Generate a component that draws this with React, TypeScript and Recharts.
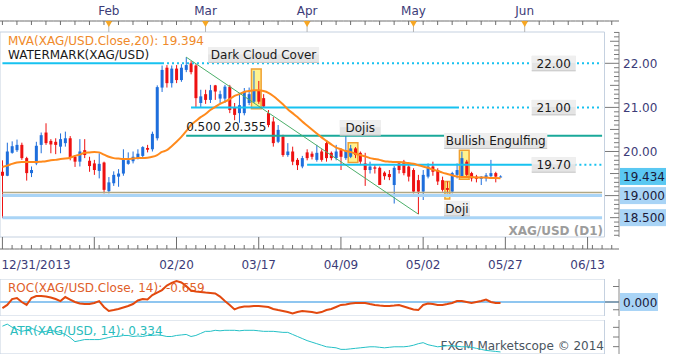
import React from 'react'
import { ComposedChart, Bar, Line, XAxis, YAxis, ReferenceLine, ReferenceArea, ReferenceDot } from 'recharts'

// XAG/USD daily, 12/31/2013 .. late May 2014
const opens = [19.54, 19.45, 19.97, 20.03, 20.15, 19.85, 19.51, 19.73, 20.15, 20.43,
  20.24, 20.22, 20.11, 20.19, 20.30, 19.88, 19.77, 20.03, 19.79, 19.73,
  19.56, 19.75, 19.10, 19.28, 19.43, 19.50, 19.72, 19.78, 19.85, 19.90,
  20.08, 20.05, 20.30, 21.45, 21.90, 21.55, 21.88, 21.62, 21.85, 22.00,
  21.95, 21.10, 21.30, 21.17, 21.50, 21.20, 21.20, 21.47, 20.99, 20.87,
  20.87, 21.10, 21.13, 21.39, 21.21, 20.87, 20.68, 20.22, 20.34, 19.92,
  20.00, 19.81, 19.66, 19.98, 19.95, 19.81, 20.00, 20.19, 19.97, 19.85,
  20.03, 19.85, 19.88, 20.07, 19.97, 19.73, 19.58, 19.64, 19.63, 19.52,
  19.49, 19.24, 19.73, 19.77, 19.66, 19.58, 19.35, 19.09, 19.43, 19.66,
  19.58, 19.35, 19.17, 19.09, 19.47, 19.44, 19.77, 19.51, 19.43, 19.38,
  19.39, 19.44, 19.51, 19.42]
const highs = [19.80, 20.20, 20.23, 20.27, 20.20, 19.88, 19.66, 20.22, 20.43, 20.64,
  20.28, 20.30, 20.41, 20.45, 20.35, 19.92, 20.28, 20.28, 19.88, 19.81,
  19.96, 19.77, 19.42, 19.55, 19.60, 20.05, 19.98, 20.00, 20.05, 20.12,
  20.15, 20.45, 21.50, 21.95, 21.96, 21.95, 21.96, 21.98, 22.14, 22.05,
  21.98, 21.40, 21.40, 21.51, 21.51, 21.38, 21.51, 21.51, 21.10, 21.32,
  21.44, 21.45, 21.83, 21.60, 21.30, 20.94, 20.78, 20.60, 20.38, 20.19,
  20.11, 19.85, 19.90, 20.05, 20.00, 20.15, 20.05, 20.25, 20.00, 20.15,
  20.07, 20.36, 20.15, 20.10, 20.00, 19.97, 19.77, 19.70, 19.66, 19.55,
  19.58, 19.67, 19.77, 19.81, 19.69, 19.62, 19.47, 19.58, 19.73, 19.77,
  19.62, 19.43, 19.32, 19.54, 19.73, 20.00, 19.81, 19.54, 19.47, 19.44,
  19.51, 19.81, 19.54, 19.46]
const lows = [18.49, 19.44, 19.95, 19.99, 19.81, 19.34, 19.42, 19.69, 19.96, 20.15,
  19.96, 19.94, 19.96, 20.11, 19.80, 19.65, 19.66, 19.85, 19.54, 19.47,
  19.39, 19.05, 19.05, 19.22, 19.20, 19.45, 19.70, 19.73, 19.82, 19.85,
  19.98, 20.00, 20.25, 21.35, 21.45, 21.45, 21.55, 21.58, 21.80, 21.75,
  21.01, 21.00, 21.08, 21.10, 21.17, 21.10, 21.10, 20.87, 20.71, 20.65,
  20.82, 21.05, 21.10, 21.08, 20.99, 20.55, 20.11, 20.19, 19.88, 19.88,
  19.69, 19.58, 19.62, 19.80, 19.82, 19.77, 19.77, 19.77, 19.80, 19.80,
  19.58, 19.81, 19.85, 19.85, 19.72, 19.22, 19.50, 19.50, 19.24, 19.36,
  19.35, 18.82, 19.50, 19.46, 19.32, 19.05, 18.58, 18.90, 19.39, 19.45,
  19.24, 19.09, 19.05, 19.05, 19.39, 19.43, 19.43, 19.32, 19.30, 19.24,
  19.32, 19.39, 19.30, 19.41]
const closes = [19.45, 20.00, 20.12, 20.15, 19.85, 19.51, 19.58, 20.13, 20.37, 20.19,
  20.16, 20.15, 20.28, 20.30, 19.87, 19.77, 20.00, 19.92, 19.67, 19.58,
  19.72, 19.13, 19.30, 19.47, 19.50, 19.85, 19.80, 19.88, 19.95, 20.10,
  20.04, 20.40, 21.46, 21.85, 21.55, 21.88, 21.62, 21.90, 21.96, 21.80,
  21.21, 21.25, 21.17, 21.39, 21.36, 21.30, 21.47, 20.94, 20.83, 21.05,
  21.36, 21.30, 21.39, 21.13, 21.02, 20.60, 20.19, 20.49, 19.92, 20.00,
  19.77, 19.69, 19.85, 19.85, 19.88, 19.97, 19.81, 19.85, 19.85, 20.00,
  19.88, 20.03, 20.07, 19.92, 19.77, 19.58, 19.66, 19.61, 19.24, 19.44,
  19.42, 19.63, 19.58, 19.51, 19.43, 19.09, 19.09, 19.47, 19.66, 19.54,
  19.32, 19.13, 19.13, 19.51, 19.58, 19.85, 19.47, 19.39, 19.38, 19.43,
  19.46, 19.51, 19.43, 19.434]
// MVA(Close,20) as drawn
const mva = [19.65, 19.68, 19.72, 19.75, 19.76, 19.76, 19.76, 19.76, 19.77, 19.78,
  19.80, 19.81, 19.83, 19.84, 19.86, 19.90, 19.93, 19.97, 19.98, 19.99,
  19.98, 19.93, 19.88, 19.85, 19.84, 19.83, 19.83, 19.84, 19.85, 19.85,
  19.86, 19.88, 19.92, 19.99, 20.03, 20.12, 20.22, 20.33, 20.46, 20.60,
  20.69, 20.78, 20.85, 20.94, 21.01, 21.08, 21.13, 21.19, 21.26, 21.30,
  21.35, 21.37, 21.39, 21.39, 21.37, 21.33, 21.26, 21.17, 21.07, 20.96,
  20.87, 20.78, 20.68, 20.59, 20.50, 20.41, 20.32, 20.24, 20.16, 20.09,
  20.05, 20.01, 19.99, 19.95, 19.92, 19.89, 19.85, 19.83, 19.81, 19.78,
  19.77, 19.76, 19.76, 19.75, 19.74, 19.72, 19.69, 19.66, 19.63, 19.59,
  19.56, 19.52, 19.49, 19.46, 19.43, 19.42, 19.42, 19.42, 19.41, 19.41,
  19.41, 19.40, 19.40, 19.394]
// ROC(Close,14), %
const roc = [-3.9, -1.9, 1.9, 2.6, 0, -1.9, 2.6, 3.9, 3.9, 3.5,
  2.9, 1.9, 0.6, 3.2, 1.6, 0, -1.0, -1.3, -1.3, -0.6,
  0.6, -3.2, -5.8, -5.2, -4.5, -3.5, -2.6, -1.3, 1.0, 1.9,
  1.6, 4.5, 6.1, 7.7, 10.6, 12.3, 13.5, 12.6, 10.3, 7.4,
  6.8, 6.5, 6.1, 5.8, 5.5, 3.5, 0.6, -1.9, -4.8, -3.5,
  -2.9, -2.9, -2.6, -2.6, -2.9, -3.2, -4.5, -5.2, -5.8, -6.5,
  -7.4, -6.5, -5.8, -6.1, -6.5, -7.1, -6.5, -5.2, -4.5, -3.2,
  -1.9, -1.6, -1.0, -0.6, -0.6, -0.6, -1.3, -1.9, -2.3, -2.6,
  -2.6, -2.3, -1.9, -2.9, -3.9, -4.8, -5.2, -1.9, -1.0, -1.3,
  -1.9, -1.9, -1.3, -0.6, 0.6, 0.6, 0, -0.6, 0, 0.6,
  1.6, 0, -0.6, -0.659]
// ATR(14)
const atr = [0.534, 0.55, 0.526, 0.51, 0.494, 0.502, 0.518, 0.502, 0.486, 0.494,
  0.502, 0.494, 0.486, 0.47, 0.446, 0.414, 0.422, 0.43, 0.43, 0.43,
  0.43, 0.438, 0.446, 0.454, 0.454, 0.462, 0.462, 0.454, 0.458, 0.454,
  0.462, 0.462, 0.466, 0.462, 0.454, 0.454, 0.462, 0.466, 0.47, 0.454,
  0.462, 0.478, 0.494, 0.494, 0.502, 0.498, 0.502, 0.502, 0.502, 0.498,
  0.502, 0.502, 0.502, 0.498, 0.494, 0.494, 0.494, 0.49, 0.486, 0.486,
  0.47, 0.454, 0.438, 0.422, 0.41, 0.398, 0.386, 0.374, 0.37, 0.366,
  0.354, 0.354, 0.358, 0.362, 0.366, 0.37, 0.374, 0.374, 0.37, 0.366,
  0.37, 0.374, 0.374, 0.374, 0.378, 0.386, 0.398, 0.406, 0.39, 0.382,
  0.374, 0.378, 0.382, 0.382, 0.378, 0.374, 0.374, 0.37, 0.362, 0.354,
  0.346, 0.342, 0.338, 0.334]

const months = ['Feb', 'Mar', 'Apr', 'May', 'Jun']
const monthSlots = [22, 42, 63, 85, 108]
const dateLabels = ['12/31/2013', '', '02/20', '03/17', '04/09', '05/02', '05/27', '06/13']
const dateSlots = [0, 19, 36, 53, 70, 87, 104, 121]
const priceLabels = [19, 20, 21, 22]
const markedPrices = [19.434, 19, 18.5]
const rocTicks = [10, 0, -5]
const atrTicks = [0.525, 0.45, 0.375]

const SLOTS = 128
const BAND = 619 / SLOTS
const FONT = '"DejaVu Sans", Verdana, sans-serif'
const NAVY = '#3c3c78'
const UP = '#1e6edc'
const DOWN = '#ee1111'
const CYAN = '#17c2f0'
const PALE = '#a9d4f6'
const FRAME = '#c5d1e0'

const rows = Array.from({ length: SLOTS }, (_, i) => {
  const has = i < closes.length
  return {
    slot: i,
    range: has ? [lows[i], highs[i]] : null,
    open: has ? opens[i] : null,
    high: has ? highs[i] : null,
    low: has ? lows[i] : null,
    close: has ? closes[i] : null,
    mva: has ? mva[i] : null,
    roc: has ? roc[i] : null,
    atr: has ? atr[i] : null,
  }
})

const minorTicks = Array.from({ length: 47 }, (_, k) => Math.round((18.1 + k * 0.1) * 10) / 10)
const priceTicks = [...minorTicks, 19.434]

function Candle(props: any) {
  const { x, y, width, height, payload } = props
  if (!payload || payload.open == null || height == null) return null
  const { open, close, high, low } = payload
  const top = Math.min(y, y + height)
  const h = Math.abs(height)
  const k = high > low ? h / (high - low) : 0
  const py = (v: number) => top + (high - v) * k
  const color = close >= open ? UP : DOWN
  const cx = x + width / 2
  const b1 = py(Math.max(open, close))
  const b2 = py(Math.min(open, close))
  return (
    <g>
      <line x1={cx} x2={cx} y1={top} y2={top + h} stroke={color} strokeWidth={1} />
      <rect x={cx - 1.5} y={b1} width={3} height={Math.max(1, b2 - b1)} fill={color} />
    </g>
  )
}

function TopTick({ x, y, payload }: any) {
  const i = payload.value as number
  const m = monthSlots.indexOf(i)
  const base = y - 11
  return (
    <g>
      <line x1={x - BAND / 2} x2={x + BAND / 2} y1={base} y2={base} stroke="#6e6e6e" />
      {m >= 0 && <line x1={x} x2={x} y1={base} y2={y} stroke="#b4b4b4" />}
      {m >= 0 && <path d={`M${x - 3.5},${base} L${x + 3.5},${base} L${x},${base + 6} Z`} fill="#f6a623" />}
      {m >= 0 && (
        <text x={x} y={y - 17} textAnchor="middle" fontSize={12} fontFamily={FONT} fill={NAVY}>{months[m]}</text>
      )}
      {m < 0 && i % 3 === 0 && <line x1={x} x2={x} y1={base} y2={base + 4} stroke="#6e6e6e" />}
    </g>
  )
}

function BottomTick({ x, y, payload }: any) {
  const i = payload.value as number
  const d = dateSlots.indexOf(i)
  const base = y + 12
  return (
    <g>
      <line x1={x - BAND / 2} x2={x + BAND / 2} y1={base} y2={base} stroke="#6e6e6e" />
      {d >= 0 && <line x1={x} x2={x} y1={y} y2={base} stroke="#6e6e6e" />}
      {d < 0 && i % 2 === 0 && <line x1={x} x2={x} y1={base - 4} y2={base} stroke="#6e6e6e" />}
      {d >= 0 && dateLabels[d] && (
        <text x={d === 0 ? x - 1 : x} y={y + 32} textAnchor={d === 0 ? 'start' : 'middle'} fontSize={12} fontFamily={FONT} fill={NAVY}>
          {dateLabels[d]}
        </text>
      )}
    </g>
  )
}

function PriceTick({ x, y, payload }: any) {
  const v = payload.value as number
  const ax = x - 4
  const mark = markedPrices.indexOf(v)
  const onGrid = Math.abs(v * 10 - Math.round(v * 10)) < 1e-6
  const isInt = Math.abs(v - Math.round(v)) < 1e-6
  const isHalf = Math.abs(v * 2 - Math.round(v * 2)) < 1e-6
  const len = !onGrid ? 0 : isInt ? 14 : isHalf ? 9 : 5
  return (
    <g>
      {len > 0 && <line x1={ax - len} x2={ax} y1={y} y2={y} stroke="#7a7a7a" />}
      {mark >= 0 && <rect x={ax + 1} y={y - 8.5} width={46} height={17} fill={mark === 0 ? '#5ac8f2' : PALE} />}
      {(mark >= 0 || priceLabels.includes(v)) && (
        <text x={x} y={y + 4.5} fontSize={12} fontFamily={FONT} fill={mark >= 0 ? '#1a1a3a' : NAVY}>
          {mark >= 0 ? v.toFixed(3) : v.toFixed(2)}
        </text>
      )}
    </g>
  )
}

function RocTick({ x, y, payload }: any) {
  const v = payload.value as number
  const ax = x - 4
  return (
    <g>
      <line x1={ax - (v === 0 ? 14 : 6)} x2={ax} y1={y} y2={y} stroke="#7a7a7a" />
      {v === 0 && <rect x={ax + 1} y={y - 9} width={38} height={18} fill={PALE} />}
      {v === 0 && <text x={x} y={y + 4.5} fontSize={12} fontFamily={FONT} fill="#1a1a3a">0.000</text>}
    </g>
  )
}

function AtrTick({ x, y }: any) {
  const ax = x - 4
  return <line x1={ax - 6} x2={ax} y1={y} y2={y} stroke="#7a7a7a" />
}

const tag = (text: string, w: number) => (p: any) => (
  <g>
    <rect x={p.cx - w / 2} y={p.cy - 7.5} width={w} height={15} fill="#e4e4e4" />
    <rect x={p.cx - w / 2} y={p.cy - 7.5} width={w} height={7} fill="#efefef" />
    <line x1={p.cx - w / 2} x2={p.cx + w / 2} y1={p.cy + 7.5} y2={p.cy + 7.5} stroke="#c4c4c4" />
    <text x={p.cx} y={p.cy + 4.5} textAnchor="middle" fontSize={12} fontFamily={FONT} fill="#1a1a1a">{text}</text>
  </g>
)

const plainText = (text: string) => (p: any) => (
  <text x={p.cx} y={p.cy - 5} fontSize={12} fontFamily={FONT} fill="#1a1a1a">{text}</text>
)

const ax = { xAxisId: 'b', yAxisId: 'p' }

function MainChart() {
  return (
    <ComposedChart width={680} height={275} data={rows} margin={{ top: 0, right: 0, bottom: 0, left: 0 }}>
      <XAxis xAxisId="t" dataKey="slot" type="category" orientation="top" height={32} interval={0}
        tickLine={false} axisLine={false} tickSize={0} tickMargin={0} tick={<TopTick />} />
      <XAxis xAxisId="b" dataKey="slot" type="category" height={38} interval={0}
        tickLine={false} axisLine={false} tickSize={0} tickMargin={0} tick={<BottomTick />} />
      <YAxis yAxisId="p" orientation="right" type="number" width={61} domain={[18.061, 22.71]} allowDataOverflow
        ticks={priceTicks} interval={0} tickLine={false} axisLine={{ stroke: '#8a8a8a' }} tickSize={0} tickMargin={4}
        tick={<PriceTick />} />

      <ReferenceArea {...ax} x1={0} x2={124} fill="none" stroke={FRAME} />
      <ReferenceArea {...ax} x1={52} x2={53} y1={20.97} y2={21.87} fill="#fff07a" fillOpacity={0.85} stroke="#f0a030" strokeWidth={1.5} />
      <ReferenceArea {...ax} x1={72} x2={73} y1={19.75} y2={20.2} fill="#fff07a" fillOpacity={0.85} stroke="#f0a030" strokeWidth={1.5} />
      <ReferenceArea {...ax} x1={92} x2={92} y1={18.92} y2={19.32} fill="#fff07a" fillOpacity={0.85} stroke="#f0a030" strokeWidth={1.5} />
      <ReferenceArea {...ax} x1={95} x2={96} y1={19.37} y2={20.03} fill="#fff07a" fillOpacity={0.85} stroke="#f0a030" strokeWidth={1.5} />

      <ReferenceLine {...ax} segment={[{ x: 0, y: 22 }, { x: 33, y: 22 }]} stroke={CYAN} strokeWidth={2} />
      <ReferenceLine {...ax} segment={[{ x: 33, y: 22 }, { x: 124, y: 22 }]} stroke={CYAN} strokeWidth={2} strokeDasharray="2 3" />
      <ReferenceLine {...ax} segment={[{ x: 39, y: 21 }, { x: 94, y: 21 }]} stroke={CYAN} strokeWidth={2} />
      <ReferenceLine {...ax} segment={[{ x: 94, y: 21 }, { x: 124, y: 21 }]} stroke={CYAN} strokeWidth={2} strokeDasharray="2 3" />
      <ReferenceLine {...ax} segment={[{ x: 38, y: 20.355 }, { x: 124, y: 20.355 }]} stroke="#1aa99a" strokeWidth={2} />
      <ReferenceLine {...ax} segment={[{ x: 63, y: 19.7 }, { x: 110, y: 19.7 }]} stroke={CYAN} strokeWidth={2} />
      <ReferenceLine {...ax} segment={[{ x: 110, y: 19.7 }, { x: 124, y: 19.7 }]} stroke={CYAN} strokeWidth={2} strokeDasharray="2 3" />
      <ReferenceLine {...ax} segment={[{ x: 0, y: 19.07 }, { x: 124, y: 19.07 }]} stroke="#b0a784" strokeWidth={1.5} />
      <ReferenceLine {...ax} segment={[{ x: 0, y: 19 }, { x: 124, y: 19 }]} stroke={PALE} strokeWidth={3} />
      <ReferenceLine {...ax} segment={[{ x: 0, y: 18.5 }, { x: 124, y: 18.5 }]} stroke={PALE} strokeWidth={3} />

      <Bar {...ax} dataKey="range" barSize={3} shape={<Candle />} isAnimationActive={false} />
      <Line {...ax} dataKey="mva" type="monotone" stroke="#ff8a1c" strokeWidth={2} dot={false} isAnimationActive={false} />

      <ReferenceLine {...ax} segment={[{ x: 38, y: 22.14 }, { x: 86, y: 18.58 }]} stroke="#4caf6a" strokeWidth={1} />

      <ReferenceDot {...ax} x={54} y={22.19} r={1} shape={tag('Dark Cloud Cover', 111)} />
      <ReferenceDot {...ax} x={74} y={20.54} r={1} shape={tag('Dojis', 41)} />
      <ReferenceDot {...ax} x={102} y={20.24} r={1} shape={tag('Bullish Engulfing', 103)} />
      <ReferenceDot {...ax} x={94} y={18.71} r={1} shape={tag('Doji', 26)} />
      <ReferenceDot {...ax} x={114} y={22} r={1} shape={tag('22.00', 44)} />
      <ReferenceDot {...ax} x={114} y={21} r={1} shape={tag('21.00', 44)} />
      <ReferenceDot {...ax} x={114} y={19.7} r={1} shape={tag('19.70', 44)} />
      <ReferenceDot {...ax} x={38} y={20.355} r={1} shape={plainText('0.500  20.355')} />
    </ComposedChart>
  )
}

function RocChart() {
  return (
    <ComposedChart width={680} height={37} data={rows} margin={{ top: 0, right: 0, bottom: 0, left: 0 }}>
      <XAxis dataKey="slot" type="category" scale="band" hide />
      <YAxis orientation="right" type="number" width={61} domain={[-9.03, 14.84]} allowDataOverflow ticks={rocTicks}
        interval={0} tickLine={false} axisLine={{ stroke: '#8a8a8a' }} tickSize={0} tickMargin={4} tick={<RocTick />} />
      <ReferenceArea x1={0} x2={124} fill="none" stroke={FRAME} />
      <ReferenceLine y={0} stroke="#8fc6f0" strokeWidth={2} />
      <Line dataKey="roc" stroke="#e2490f" strokeWidth={2} dot={false} isAnimationActive={false} />
    </ComposedChart>
  )
}

function AtrChart() {
  return (
    <ComposedChart width={680} height={34} data={rows} margin={{ top: 0, right: 0, bottom: 0, left: 0 }}>
      <XAxis dataKey="slot" type="category" scale="band" hide />
      <YAxis orientation="right" type="number" width={61} domain={[0.318, 0.582]} allowDataOverflow ticks={atrTicks}
        interval={0} tickLine={false} axisLine={{ stroke: '#8a8a8a' }} tickSize={0} tickMargin={4} tick={<AtrTick />} />
      <ReferenceArea x1={0} x2={124} fill="none" stroke={FRAME} />
      <Line dataKey="atr" stroke="#25c0c6" strokeWidth={1} dot={false} isAnimationActive={false} />
    </ComposedChart>
  )
}

export default function App() {
  const t = { fontFamily: FONT, fontSize: 12 }
  return (
    <div style={{ position: 'relative', width: 680, height: 355, background: '#fff', overflow: 'hidden' }}>
      <style>{'body{margin:0}'}</style>
      <svg width={680} height={355} style={{ position: 'absolute', left: 0, top: 0 }}>
        <text x={8} y={45} fill="#f08a2a" {...t}>MVA(XAG/USD.Close,20): 19.394</text>
        <text x={8} y={59} fill="#1a1a1a" {...t}>WATERMARK(XAG/USD)</text>
        <text x={603} y={235} fill="#9c9c9c" fontWeight="bold" textAnchor="end" {...t}>XAG/USD (D1)</text>
        <text x={8} y={292} fill="#e0602a" {...t}>ROC(XAG/USD.Close, 14): -0.659</text>
        <text x={10} y={335} fill="#2bbcbc" {...t}>ATR(XAG/USD, 14): 0.334</text>
        <text x={604} y={350} fill="#4a5560" textAnchor="end" {...t}>FXCM Marketscope © 2014</text>
      </svg>
      <div style={{ position: 'absolute', left: 0, top: 0 }}><MainChart /></div>
      <div style={{ position: 'absolute', left: 0, top: 279 }}><RocChart /></div>
      <div style={{ position: 'absolute', left: 0, top: 320 }}><AtrChart /></div>
    </div>
  )
}
